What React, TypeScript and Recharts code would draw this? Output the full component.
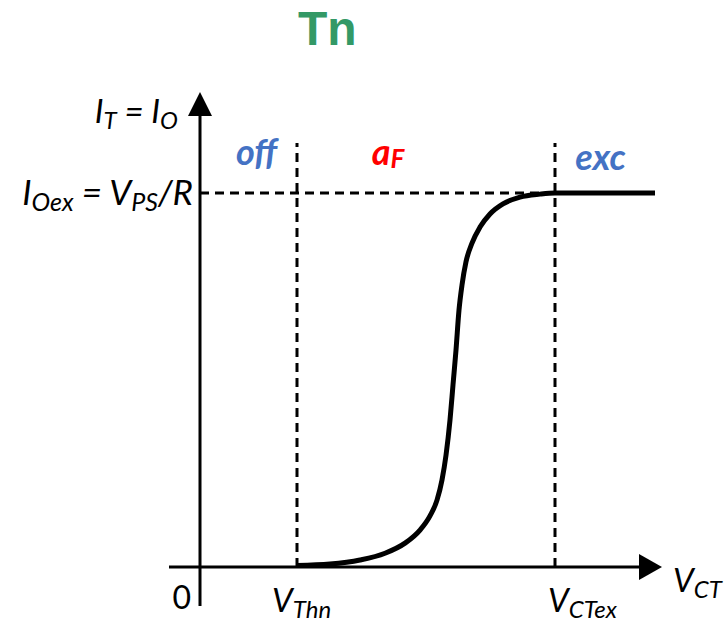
import React from "react";
import { LineChart, Line, XAxis, YAxis, ReferenceLine, ReferenceDot } from "recharts";

const FONT = "Lato, 'Open Sans', sans-serif";
const TITLE_FONT = "'Liberation Sans', Arial, sans-serif";
const BLUE = "#4472C4";
const RED = "#FF0000";
const GREEN = "#339966";

// Transfer curve: V_CT (arbitrary units) against normalised output current I_T
const vCT = [0.97, 1.3, 1.6, 1.85, 2.05, 2.2, 2.3, 2.37, 2.42, 2.46, 2.5, 2.53, 2.56, 2.59, 2.62, 2.66, 2.72, 2.8, 2.9, 3.03, 3.2, 3.4, 3.55, 4.55];
const iT = [0.004, 0.008, 0.019, 0.037, 0.064, 0.099, 0.137, 0.179, 0.233, 0.299, 0.393, 0.487, 0.58, 0.687, 0.754, 0.816, 0.866, 0.909, 0.944, 0.971, 0.989, 0.997, 1, 1];

// characteristic points
const V_THN = 0.97;
const V_CTEX = 3.55;
const I_OEX = 1;

// drawing window
const X_DOMAIN = [-0.31, 4.62];
const Y_DOMAIN = [-0.104, 1.27];
const DASH_TOP = 1.134;

const data = vCT.map((v, k) => ({ v, i: iT[k] }));

type Part = { t: string; sub?: boolean };
type LabelOpts = {
  dx: number;
  dy: number;
  anchor?: "start" | "middle" | "end";
  size?: number;
  color?: string;
  bold?: boolean;
  italic?: boolean;
  subShift?: number;
  font?: string;
};

// text with subscripts, placed relative to a ReferenceDot position
const textShape = (parts: Part[], o: LabelOpts) => (props: any) => {
  const size = o.size ?? 33;
  const subSize = Math.round(size * 0.72);
  const shift = o.subShift ?? size * 0.17;
  let inSub = false;
  return (
    <text
      x={props.cx + o.dx}
      y={props.cy + o.dy}
      textAnchor={o.anchor ?? "start"}
      fontFamily={o.font ?? FONT}
      fontSize={size}
      fontStyle={o.italic === false ? "normal" : "italic"}
      fontWeight={o.bold ? 700 : 400}
      fill={o.color ?? "#000"}
    >
      {parts.map((p, k) => {
        let dy = 0;
        if (p.sub && !inSub) dy = shift;
        if (!p.sub && inSub) dy = -shift;
        inSub = !!p.sub;
        return (
          <tspan key={k} dy={dy} fontSize={p.sub ? subSize : size}>
            {p.t}
          </tspan>
        );
      })}
    </text>
  );
};

const upArrow = (props: any) => (
  <path d={`M${props.cx},${props.cy} L${props.cx - 12},${props.cy + 24} L${props.cx + 12},${props.cy + 24} Z`} fill="#000" />
);

const rightArrow = (props: any) => (
  <path d={`M${props.cx},${props.cy} L${props.cx - 23},${props.cy - 13} L${props.cx - 23},${props.cy + 13} Z`} fill="#000" />
);

export default function App() {
  return (
    <div style={{ position: "absolute", left: 0, top: 0, width: 727, height: 627, background: "#fff" }}>
      <LineChart width={727} height={627} data={data} margin={{ top: 92, right: 65, bottom: 21, left: 169 }}>
        <XAxis type="number" dataKey="v" domain={X_DOMAIN} hide allowDataOverflow />
        <YAxis type="number" domain={Y_DOMAIN} hide allowDataOverflow />

        {/* axes */}
        <ReferenceLine segment={[{ x: 0, y: Y_DOMAIN[0] }, { x: 0, y: Y_DOMAIN[1] - 0.03 }]} stroke="#000" strokeWidth={3} ifOverflow="visible" />
        <ReferenceLine segment={[{ x: X_DOMAIN[0], y: 0 }, { x: X_DOMAIN[1] - 0.1, y: 0 }]} stroke="#000" strokeWidth={3} ifOverflow="visible" />
        <ReferenceDot x={0} y={Y_DOMAIN[1]} ifOverflow="visible" shape={upArrow} />
        <ReferenceDot x={X_DOMAIN[1]} y={0} ifOverflow="visible" shape={rightArrow} />

        {/* guides */}
        <ReferenceLine segment={[{ x: V_THN, y: 0 }, { x: V_THN, y: DASH_TOP }]} stroke="#000" strokeWidth={3} strokeDasharray="9 6" ifOverflow="visible" />
        <ReferenceLine segment={[{ x: V_CTEX, y: 0 }, { x: V_CTEX, y: DASH_TOP }]} stroke="#000" strokeWidth={3} strokeDasharray="9 6" ifOverflow="visible" />
        <ReferenceLine segment={[{ x: 0, y: I_OEX }, { x: V_CTEX, y: I_OEX }]} stroke="#000" strokeWidth={3} strokeDasharray="9 6" ifOverflow="visible" />

        <Line type="monotone" dataKey="i" stroke="#000" strokeWidth={5} dot={false} isAnimationActive={false} />

        {/* title */}
        <ReferenceDot x={0} y={Y_DOMAIN[1]} ifOverflow="visible" shape={textShape([{ t: "Tn" }], { dx: 98, dy: -47, size: 48, bold: true, italic: false, color: GREEN, font: TITLE_FONT })} />

        {/* axis labels */}
        <ReferenceDot x={0} y={Y_DOMAIN[1]} ifOverflow="visible" shape={textShape([{ t: "I" }, { t: "T", sub: true }, { t: " = I" }, { t: "O", sub: true }], { dx: -22, dy: 31, anchor: "end", size: 33 })} />
        <ReferenceDot x={0} y={I_OEX} ifOverflow="visible" shape={textShape([{ t: "I" }, { t: "Oex", sub: true }, { t: " = V" }, { t: "PS", sub: true }, { t: "/R" }], { dx: -7, dy: 12, anchor: "end", size: 35 })} />
        <ReferenceDot x={0} y={0} ifOverflow="visible" shape={textShape([{ t: "0" }], { dx: -9, dy: 42, anchor: "end", size: 32, italic: false })} />
        <ReferenceDot x={V_THN} y={0} ifOverflow="visible" shape={textShape([{ t: "V" }, { t: "Thn", sub: true }], { dx: -25, dy: 45 })} />
        <ReferenceDot x={V_CTEX} y={0} ifOverflow="visible" shape={textShape([{ t: "V" }, { t: "CTex", sub: true }], { dx: -7, dy: 45 })} />
        <ReferenceDot x={X_DOMAIN[1]} y={0} ifOverflow="visible" shape={textShape([{ t: "V" }, { t: "CT", sub: true }], { dx: 11, dy: 25 })} />

        {/* operating regions */}
        <ReferenceDot x={V_THN / 2} y={I_OEX} ifOverflow="visible" shape={textShape([{ t: "off" }], { dx: 8, dy: -28, anchor: "middle", size: 36, bold: true, color: BLUE })} />
        <ReferenceDot x={(V_THN + V_CTEX) / 2} y={I_OEX} ifOverflow="visible" shape={textShape([{ t: "a" }, { t: "F", sub: true }], { dx: -38, dy: -28, anchor: "middle", size: 36, bold: true, color: RED, subShift: 3 })} />
        <ReferenceDot x={(V_CTEX + X_DOMAIN[1]) / 2} y={I_OEX} ifOverflow="visible" shape={textShape([{ t: "exc" }], { dx: -8, dy: -23, anchor: "middle", size: 36, bold: true, color: BLUE })} />
      </LineChart>
    </div>
  );
}
